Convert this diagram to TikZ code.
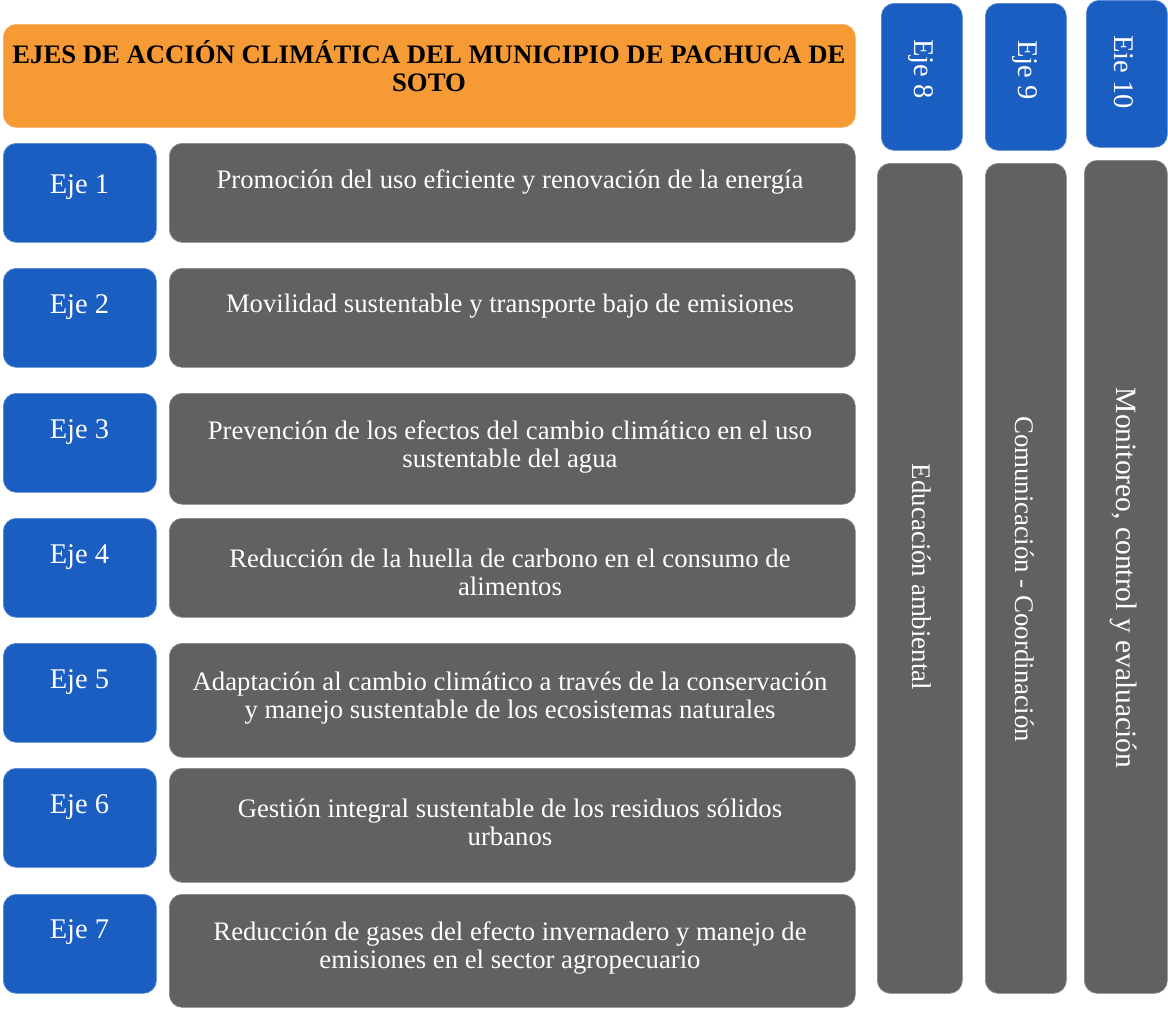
\documentclass[tikz,border=0pt]{standalone}
\usepackage{fontspec}
\setmainfont{Liberation Serif}
\definecolor{tituloNaranja}{HTML}{F59A35}
\definecolor{ejeAzul}{HTML}{1B5EC2}
\definecolor{ejeGris}{HTML}{616161}
\begin{document}
\begin{tikzpicture}[x=1pt,y=-1pt,
  caja/.style={rectangle, rounded corners=13pt, inner sep=0pt, anchor=north west, line width=0.7pt},
  naranja/.style={caja, fill=tituloNaranja, draw=tituloNaranja!80!white},
  azul/.style={caja, fill=ejeAzul, draw=ejeAzul!75!white},
  gris/.style={caja, fill=ejeGris, draw=ejeGris!75!white},
  etiqueta/.style={text=white, font=\fontsize{28.5}{30}\selectfont, inner sep=0pt},
  texto/.style={text=white, align=center, font=\fontsize{26.7}{28.3}\selectfont, inner sep=0pt},
  vertical/.style={text=white, rotate=-90, font=\fontsize{26.9}{30}\selectfont, inner sep=0pt},
]
\useasboundingbox (0,0) rectangle (1168,1009);

% title bar
\node[naranja, minimum width=852pt, minimum height=103pt] (titulo) at (3,24) {};
\node[align=center, inner sep=0pt, font=\bfseries\fontsize{26.7}{28}\selectfont] (tituloTxt) at (429,66)
  {EJES DE ACCIÓN CLIMÁTICA DEL MUNICIPIO DE PACHUCA DE\\SOTO};

% axes 1 to 7: blue label boxes
\foreach \i/\y in {1/143,2/268,3/393,4/518,5/643,6/768,7/894}{
  \node[azul, minimum width=153pt, minimum height=99pt] (eje\i) at (3,\y) {};
}
\node[etiqueta] (ejeTxt1) at (79.5,187) {Eje 1};
\node[etiqueta] (ejeTxt2) at (79.5,307) {Eje 2};
\node[etiqueta] (ejeTxt3) at (79.5,432) {Eje 3};
\node[etiqueta] (ejeTxt4) at (79.5,557) {Eje 4};
\node[etiqueta] (ejeTxt5) at (79.5,682) {Eje 5};
\node[etiqueta] (ejeTxt6) at (79.5,807) {Eje 6};
\node[etiqueta] (ejeTxt7) at (79.5,932) {Eje 7};

% axes 1 to 7: grey description boxes
\node[gris, minimum width=686pt, minimum height=99pt]  (desc1) at (169,143) {};
\node[gris, minimum width=686pt, minimum height=99pt]  (desc2) at (169,268) {};
\node[gris, minimum width=686pt, minimum height=111pt] (desc3) at (169,393) {};
\node[gris, minimum width=686pt, minimum height=99pt]  (desc4) at (169,518) {};
\node[gris, minimum width=686pt, minimum height=114pt] (desc5) at (169,643) {};
\node[gris, minimum width=686pt, minimum height=114pt] (desc6) at (169,768) {};
\node[gris, minimum width=686pt, minimum height=113pt] (desc7) at (169,894) {};

\node[texto] (descTxt1) at (510,182) {Promoción del uso eficiente y renovación de la energía};
\node[texto] (descTxt2) at (510,306) {Movilidad sustentable y transporte bajo de emisiones};
\node[texto] (descTxt3) at (510,447) {Prevención de los efectos del cambio climático en el uso\\sustentable del agua};
\node[texto] (descTxt4) at (510,572) {Reducción de la huella de carbono en el consumo de\\alimentos};
\node[texto] (descTxt5) at (510,698) {Adaptación al cambio climático a través de la conservación\\y manejo sustentable de los ecosistemas naturales};
\node[texto] (descTxt6) at (510,822) {Gestión integral sustentable de los residuos sólidos\\urbanos};
\node[texto] (descTxt7) at (510,948) {Reducción de gases del efecto invernadero y manejo de\\emisiones en el sector agropecuario};

% axes 8 to 10: vertical columns
\node[azul, minimum width=81pt, minimum height=147pt] (eje8)  at (881,3) {};
\node[azul, minimum width=81pt, minimum height=147pt] (eje9)  at (985,3) {};
\node[azul, minimum width=81pt, minimum height=147pt] (eje10) at (1086,0) {};
\node[vertical, font=\fontsize{28.5}{30}\selectfont] (ejeTxt8)  at (921,69) {Eje 8};
\node[vertical, font=\fontsize{28.5}{30}\selectfont] (ejeTxt9)  at (1025,70) {Eje 9};
\node[vertical, font=\fontsize{28.5}{30}\selectfont] (ejeTxt10) at (1124,72) {Eie 10};

\node[gris, minimum width=85pt, minimum height=830pt] (col8)  at (877,163) {};
\node[gris, minimum width=81pt, minimum height=830pt] (col9)  at (985,163) {};
\node[gris, minimum width=83pt, minimum height=833pt] (col10) at (1084,160) {};
\node[vertical] (colTxt8)  at (922,577) {Educación ambiental};
\node[vertical] (colTxt9)  at (1025,579) {Comunicación - Coordinación};
\node[vertical, font=\fontsize{29.5}{32}\selectfont] (colTxt10) at (1124,578) {Monitoreo, control y evaluación};
\end{tikzpicture}
\end{document}
